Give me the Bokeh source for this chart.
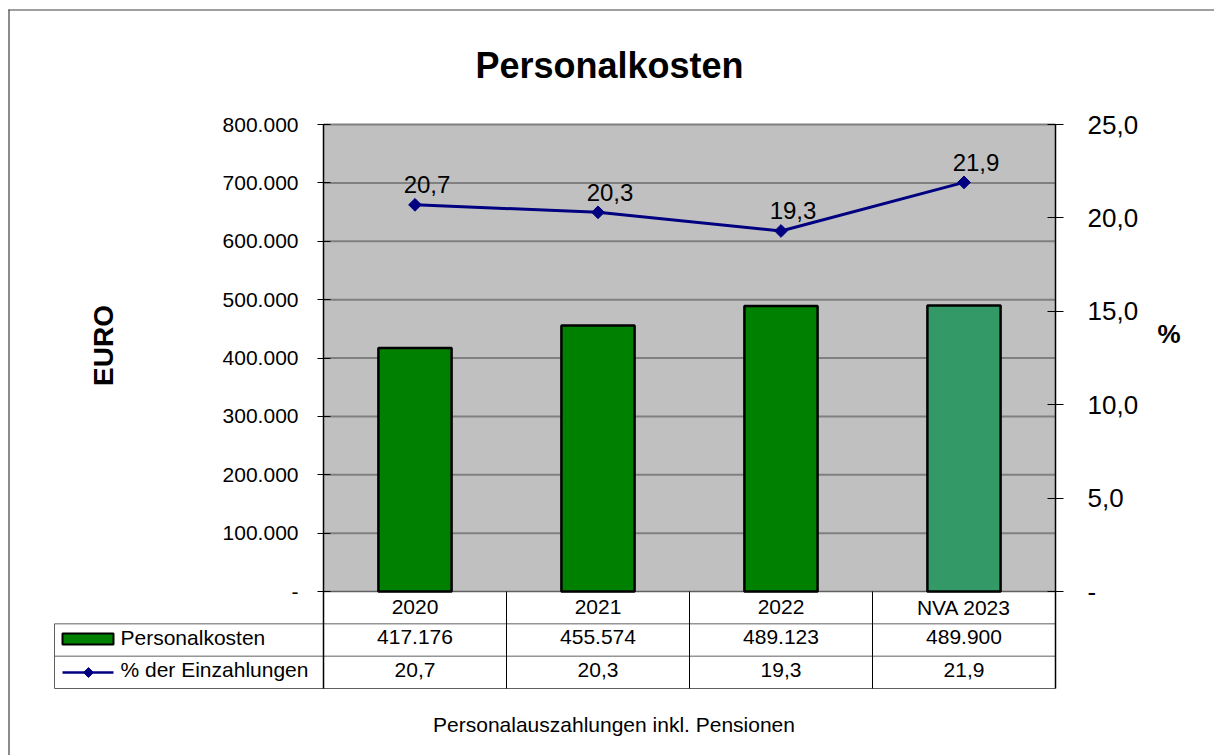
import math
from bokeh.plotting import figure
from bokeh.models import Range1d, LinearAxis, FixedTicker, CustomJSTickFormatter, ColumnDataSource
from bokeh.core.properties import value
from bokeh.embed import file_html
from bokeh.resources import INLINE

# ---------------- data ----------------
categories = ["2020", "2021", "2022", "NVA 2023"]
personalkosten = [417176, 455574, 489123, 489900]
pct_einzahlungen = [20.7, 20.3, 19.3, 21.9]
eur_ticks = [0, 100000, 200000, 300000, 400000, 500000, 600000, 700000, 800000]
pct_ticks = [0, 5, 10, 15, 20, 25]
bar_colors = ["#008000", "#008000", "#008000", "#339966"]
series_names = ["Personalkosten", "% der Einzahlungen"]
title_text = "Personalkosten"
footer_text = "Personalauszahlungen inkl. Pensionen"
eur_label = "EURO"
pct_label = "%"

# ---------------- layout (page pixels) ----------------
W, H = 1214, 755
OX, OY = 0, 0
PL, PR = 323, 1055
PT, PB = 124, 591
TB = 688
TL = 54
EUR_MAX = eur_ticks[-1]
PCT_MAX = pct_ticks[-1]
n = len(categories)
ux = (PR - PL) / n


def X(px):
    return (px - PL) / ux


def Y(py):
    return (PB - py) * EUR_MAX / (PB - PT)


def YP(py):
    return (PB - py) * PCT_MAX / (PB - PT)


FONT_NAME = "Liberation Sans"
FONT = value(FONT_NAME)
rh = (Y(PB) - Y(TB)) / 3.0
rh_p = (YP(PB) - YP(TB)) / 3.0

p = figure(width=W, height=H,
           x_range=Range1d(X(OX), X(OX + W)),
           y_range=Range1d(Y(OY + H), Y(OY)),
           x_axis_type=None, y_axis_type=None,
           toolbar_location=None, output_backend="svg",
           min_border=0, outline_line_color=None,
           background_fill_color="white", border_fill_color="white")
p.extra_y_ranges = {"pct": Range1d(YP(OY + H), YP(OY))}

xs = [i + 0.5 for i in range(n)]

# outer chart border (left and top edges visible)
p.segment(x0=[X(8.5), X(8)], x1=[X(8.5), X(OX + W)], y0=[Y(9), Y(9.5)], y1=[Y(OY + H), Y(9.5)],
          line_color="#404040", line_width=1.2)

# plot area background
p.quad(left=[0], right=[n], bottom=[0], top=[EUR_MAX], fill_color="#C0C0C0", line_color=None)
# gridlines
grid_y = [t for t in eur_ticks if t > 0]
p.segment(x0=[0] * len(grid_y), x1=[n] * len(grid_y), y0=grid_y, y1=grid_y,
          line_color="#808080", line_width=2)
p.segment(x0=[0], x1=[n], y0=[0], y1=[0], line_color="#606060", line_width=1.5)

# bars
src = ColumnDataSource(dict(x=xs, top=personalkosten, color=bar_colors))
p.vbar(x="x", top="top", bottom=0, width=0.4, source=src, fill_color="color",
       line_color="black", line_width=2.5)

# line series
p.line(xs, pct_einzahlungen, y_range_name="pct", line_color="#000080", line_width=3)
p.scatter(xs, pct_einzahlungen, y_range_name="pct", marker="square", angle=math.pi / 4,
          size=9, fill_color="#000080", line_color="#000080")
p.text(xs, pct_einzahlungen, y_range_name="pct",
       text=[f"{v:.1f}".replace(".", ",") for v in pct_einzahlungen],
       x_offset=12, y_offset=-20, text_align="center", text_baseline="middle",
       text_font=FONT, text_font_size="24px", text_color="black")

# axes
yax = LinearAxis(fixed_location=0, bounds=(-3 * rh, EUR_MAX),
                 ticker=FixedTicker(ticks=eur_ticks),
                 formatter=CustomJSTickFormatter(code="""
                     if (tick == 0) return "-";
                     return tick.toFixed(0).replace(/\\B(?=(\\d{3})+(?!\\d))/g, ".");
                 """),
                 major_tick_in=7, major_tick_out=6, minor_tick_in=0, minor_tick_out=0,
                 major_label_standoff=19, axis_line_color="black", axis_line_width=1.5,
                 major_tick_line_color="black", major_tick_line_width=1,
                 major_label_text_font=FONT_NAME, major_label_text_font_size="21px",
                 major_label_text_color="black")
p.add_layout(yax, "left")

rax = LinearAxis(y_range_name="pct", fixed_location=n, bounds=(-3 * rh_p, PCT_MAX),
                 ticker=FixedTicker(ticks=pct_ticks),
                 formatter=CustomJSTickFormatter(code="""
                     if (tick == 0) return "-";
                     return tick.toFixed(1).replace(".", ",");
                 """),
                 major_tick_in=8, major_tick_out=8, minor_tick_in=0, minor_tick_out=0,
                 major_label_standoff=24, axis_line_color="black", axis_line_width=1.5,
                 major_tick_line_color="black", major_tick_line_width=1,
                 major_label_text_font=FONT_NAME, major_label_text_font_size="26px",
                 major_label_text_color="black")
p.add_layout(rax, "right")

# data table
for k in (1, 2, 3):
    p.segment(x0=[X(TL)], x1=[n], y0=[-k * rh], y1=[-k * rh], line_color="#606060", line_width=1)
p.segment(x0=[X(TL)], x1=[X(TL)], y0=[-rh], y1=[-3 * rh], line_color="#606060", line_width=1)
p.segment(x0=[1, 2, 3], x1=[1, 2, 3], y0=[0, 0, 0], y1=[-3 * rh] * 3, line_color="black", line_width=1)

rows = [categories,
        [f"{v:,}".replace(",", ".") for v in personalkosten],
        [f"{v:.1f}".replace(".", ",") for v in pct_einzahlungen]]
row_off = [-0.5, -3, -2.5]
for k, row in enumerate(rows):
    p.text(xs, [-(k + 0.5) * rh] * n, text=row, y_offset=row_off[k], text_align="center",
           text_baseline="middle", text_font=FONT, text_font_size="21px", text_color="black")

# legend column of the table
p.rect(x=[X(87.5)], y=[Y(638.5)], width=51, height=11, width_units="screen", height_units="screen",
       fill_color=bar_colors[0], line_color="black", line_width=2)
p.line([X(62), X(113)], [Y(672), Y(672)], line_color="#000080", line_width=2.5)
p.scatter([X(88)], [Y(672)], marker="square", angle=math.pi / 4, size=7,
          fill_color="#000080", line_color="#000080")
p.text([X(120), X(120)], [-1.5 * rh, -2.5 * rh], text=series_names, y_offset=[-3, -2.5],
       text_align="left", text_baseline="middle", text_font=FONT,
       text_font_size="21px", text_color="black")

# titles
p.text([X(609)], [Y(65)], text=[title_text], text_align="center", text_baseline="middle",
       text_font=FONT, text_font_size="36px", text_font_style="bold", text_color="black")
p.text([X(613.5)], [Y(724)], text=[footer_text], text_align="center", text_baseline="middle",
       text_font=FONT, text_font_size="21px", text_color="black")
p.text([X(103)], [Y(345)], text=[eur_label], angle=math.pi / 2, text_align="center",
       text_baseline="middle", text_font=FONT, text_font_size="28px", text_font_style="bold",
       text_color="black")
p.text([X(1168.5)], [Y(333)], text=[pct_label], text_align="center", text_baseline="middle",
       text_font=FONT, text_font_size="26px", text_font_style="bold", text_color="black")

open("out.html", "w").write(file_html(p, INLINE))
